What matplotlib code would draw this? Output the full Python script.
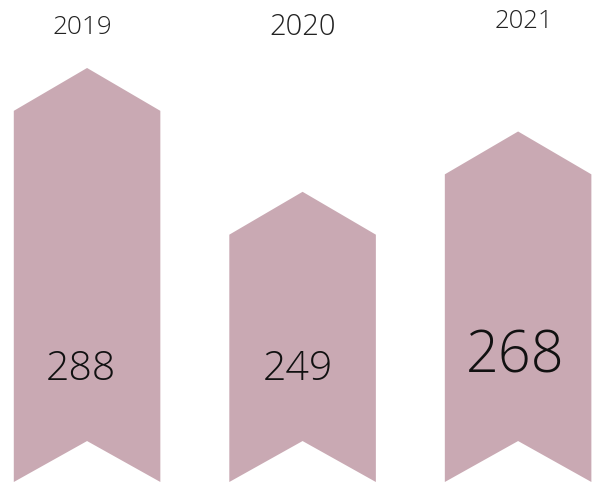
import matplotlib.pyplot as plt
from matplotlib.patches import Polygon

# data
years = ['2019', '2020', '2021']
values = [288, 249, 268]

# label styling (px from top / px shift from bar centre)
year_sizes = [18.8, 21, 18.5]
value_sizes = [29.5, 29.5, 41.5]
year_y = [27, 27, 22]
value_y = [369, 369, 357]
year_dx = [-5, 0, 6]
value_dx = [-6, -5, -3]

bar_color = '#C9A9B3'
base = 171.1                 # value at bottom edge of the picture
tip = 13.5                   # arrow tip height, in value units
notch = 12.9                 # bottom notch depth
width = 0.68

fig = plt.figure(figsize=(6, 4.82), dpi=100)
ax = fig.add_axes([0, 0, 1, 1])
ax.set_xlim(-0.404, 2.38)
ax.set_ylim(base, base + 482 / 3.175)
ax.axis('off')

for i, v in enumerate(values):
    x0, x1 = i - width / 2, i + width / 2
    pts = [(x0, base), (i, base + notch), (x1, base), (x1, v), (i, v + tip), (x0, v)]
    ax.add_patch(Polygon(pts, closed=True, facecolor=bar_color, edgecolor='none'))

    cx = ax.transData.transform((i, base))[0]
    fig.text((cx + year_dx[i]) / 600, 1 - year_y[i] / 482, years[i],
             ha='center', va='center', fontsize=year_sizes[i], color='#222222',
             family='Open Sans', fontweight='light')
    fig.text((cx + value_dx[i]) / 600, 1 - value_y[i] / 482, str(v),
             ha='center', va='center', fontsize=value_sizes[i], color='#111111',
             family='Open Sans', fontweight='light')

fig.savefig('out.png', dpi=100)
